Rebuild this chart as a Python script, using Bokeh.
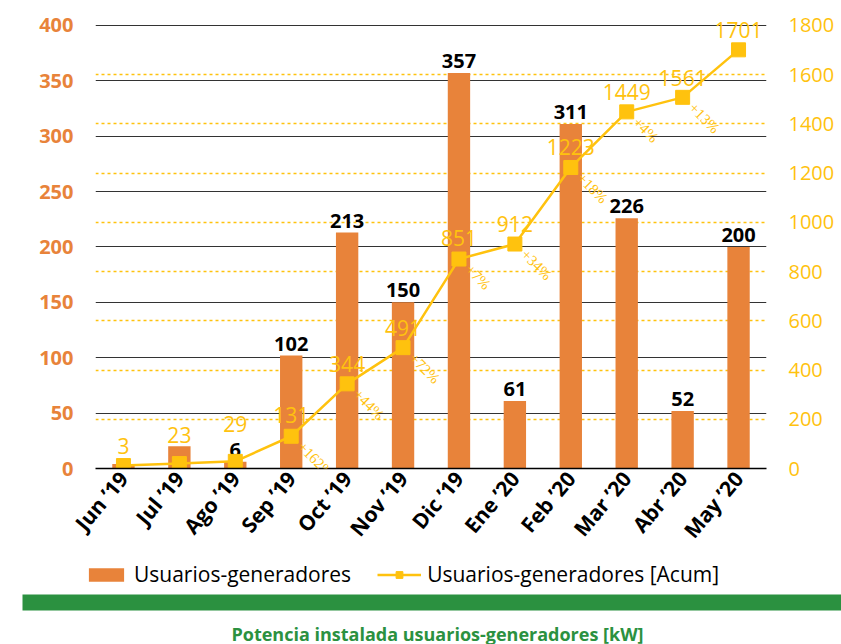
import math
from bokeh.plotting import figure
from bokeh.models import (ColumnDataSource, Range1d, LinearAxis, FixedTicker, Grid,
                          Legend, LegendItem, FactorRange, LabelSet)
from bokeh.layouts import column
from bokeh.embed import file_html
from bokeh.resources import INLINE
from bokeh.core.properties import value

# ---------------- data ----------------
months = ["Jun ’19", "Jul ’19", "Ago ’19", "Sep ’19", "Oct ’19", "Nov ’19",
          "Dic ’19", "Ene ’20", "Feb ’20", "Mar ’20", "Abr ’20", "May ’20"]
usuarios = [4, 20, 6, 102, 213, 150, 357, 61, 311, 226, 52, 200]
usuarios_labels = ["", "", "6", "102", "213", "150", "357", "61", "311", "226", "52", "200"]
acum = [12, 20, 29, 131, 344, 491, 851, 912, 1223, 1449, 1508, 1701]
acum_labels = ["3", "23", "29", "131", "344", "491", "851", "912", "1223", "1449", "1561", "1701"]
growth_labels = ["+667%", "+26%", "+352%", "+162%", "+44%", "+72%", "+7%", "+34%",
                 "+18%", "+4%", "+13%", ""]
left_ticks = [0, 50, 100, 150, 200, 250, 300, 350, 400]
right_ticks = [0, 200, 400, 600, 800, 1000, 1200, 1400, 1600, 1800]

# style-only: how far (px) each cumulative label floats above its marker
acum_label_lift = [12, 21, 29, 13, 12, 12, 13, 12, 12, 12, 11, 12]

ORANGE = "#E8833A"
YELLOW = "#FFC20E"
GREEN = "#2B9140"
FONT = "Open Sans"

src = ColumnDataSource(dict(
    month=months, usuarios=usuarios, ulab=usuarios_labels,
    acum=acum, alab=acum_labels, glab=growth_labels,
    lift=[-v for v in acum_label_lift],
))

W = 841
H_TOTAL = 644
H_MAIN = 555
H_BOT = H_TOTAL - H_MAIN
# frame: top at y=12, zero line at y=469; top tick (400 / 1800) sits at y=25
FRAME_TOP = 12
ZERO_Y = 469
TICK_TOP_Y = 25
k = (ZERO_Y - FRAME_TOP) / (ZERO_Y - TICK_TOP_Y)

p = figure(width=W, height=H_MAIN, x_range=FactorRange(*months),
           y_range=Range1d(0, left_ticks[-1] * k), output_backend="svg",
           toolbar_location=None, min_border_left=95, min_border_right=75,
           min_border_top=FRAME_TOP, min_border_bottom=H_MAIN - ZERO_Y)
p.frame_align = False
p.extra_y_ranges = {"acum": Range1d(0, right_ticks[-1] * k)}
p.outline_line_color = None
p.background_fill_color = "white"

# left axis
p.yaxis.ticker = FixedTicker(ticks=left_ticks)
p.yaxis.axis_line_color = None
p.yaxis.major_tick_line_color = None
p.yaxis.major_tick_out = 0
p.yaxis.minor_tick_line_color = None
p.yaxis.major_label_text_color = ORANGE
p.yaxis.major_label_text_font = FONT
p.yaxis.major_label_text_font_style = "bold"
p.yaxis.major_label_text_font_size = "20px"
p.yaxis.major_label_standoff = 22

# right axis
ra = LinearAxis(y_range_name="acum", ticker=FixedTicker(ticks=right_ticks))
ra.axis_line_color = None
ra.major_tick_line_color = None
ra.major_tick_out = 0
ra.minor_tick_line_color = None
ra.major_label_text_color = YELLOW
ra.major_label_text_font = FONT
ra.major_label_text_font_size = "20px"
ra.major_label_standoff = 22
p.add_layout(ra, "right")

# x axis
p.xaxis.axis_line_color = "black"
p.xaxis.axis_line_width = 1.5
p.xaxis.major_tick_line_color = None
p.xaxis.major_tick_out = 0
p.xaxis.minor_tick_line_color = None
p.xaxis.major_label_orientation = math.radians(50)
p.xaxis.major_label_text_font = FONT
p.xaxis.major_label_text_font_style = "bold"
p.xaxis.major_label_text_font_size = "21px"
p.xaxis.major_label_text_color = "black"
p.xaxis.major_label_standoff = 6

# grids
p.xgrid.grid_line_color = None
p.ygrid.ticker = FixedTicker(ticks=left_ticks[1:])
p.ygrid.grid_line_color = "#333333"
p.ygrid.grid_line_width = 1
dotted = Grid(dimension=1,
              ticker=FixedTicker(ticks=[t * left_ticks[-1] / right_ticks[-1]
                                        for t in right_ticks[1:-1]]),
              grid_line_color=YELLOW, grid_line_dash="3 3", grid_line_width=1.5)
p.add_layout(dotted)

# bars
p.vbar(x="month", top="usuarios", width=0.4, source=src, fill_color=ORANGE,
       line_color=None)
p.text(x="month", y="usuarios", text="ulab", source=src, text_align="center",
       text_baseline="bottom", y_offset=-5, text_font=value(FONT),
       text_font_style="bold", text_font_size="20px", text_color="black")

# cumulative line
p.line(x="month", y="acum", y_range_name="acum", source=src, line_color=YELLOW,
       line_width=2.5)
p.scatter(x="month", y="acum", y_range_name="acum", source=src, marker="square",
          size=14, fill_color=YELLOW, line_color=YELLOW)
p.text(x="month", y="acum", y_range_name="acum", text="alab", source=src,
       text_align="center", text_baseline="bottom", y_offset="lift",
       text_font=value(FONT), text_font_size="21px", text_color=YELLOW)

# growth labels as an annotation so they can spill below the axis line
growth = LabelSet(x="month", y="acum", y_range_name="acum", text="glab", source=src,
                  text_align="left", text_baseline="middle", x_offset=9,
                  y_offset=-8, angle=-math.pi / 4, text_font=FONT,
                  text_font_size="15px", text_color=YELLOW)
p.add_layout(growth)

# ---------------- bottom: legend, green band, caption ----------------
# y here is measured in pixels up from the bottom edge of the page
p2 = figure(width=W, height=H_BOT, x_range=Range1d(0, W), y_range=Range1d(0, H_BOT),
            output_backend="svg", toolbar_location=None, x_axis_type=None,
            y_axis_type=None, min_border=0)
p2.frame_align = False
p2.outline_line_color = None
p2.xgrid.grid_line_color = None
p2.ygrid.grid_line_color = None

# off-canvas proxies so the legend can draw its swatches
r_bar = p2.vbar(x=[-500], top=[-500], width=1, fill_color=ORANGE, line_color=None)
r_line = p2.line(x=[-500, -400], y=[-500, -500], line_color=YELLOW, line_width=2.5)
r_mark = p2.scatter(x=[-500], y=[-500], marker="square", size=10, fill_color=YELLOW,
                    line_color=YELLOW)

legend = Legend(items=[
    LegendItem(label="Usuarios-generadores", renderers=[r_bar]),
    LegendItem(label="Usuarios-generadores [Acum]", renderers=[r_line, r_mark]),
], orientation="horizontal", location=(84, 56), padding=0, margin=0,
    spacing=26, glyph_width=44, glyph_height=17, label_standoff=6,
    label_height=24, label_text_font=FONT, label_text_font_size="21px",
    label_text_color="black", border_line_color=None, background_fill_alpha=0)
p2.add_layout(legend)

p2.quad(left=[22], right=[W], bottom=[34], top=[50], fill_color=GREEN,
        line_color=None)
p2.text(x=[437], y=[11], text=["Potencia instalada usuarios-generadores [kW]"],
        text_align="center", text_baseline="alphabetic", text_font=value(FONT),
        text_font_style="bold", text_font_size="18px", text_color=GREEN)

layout = column(p, p2, spacing=0)
open("out.html", "w").write(file_html(layout, INLINE))
